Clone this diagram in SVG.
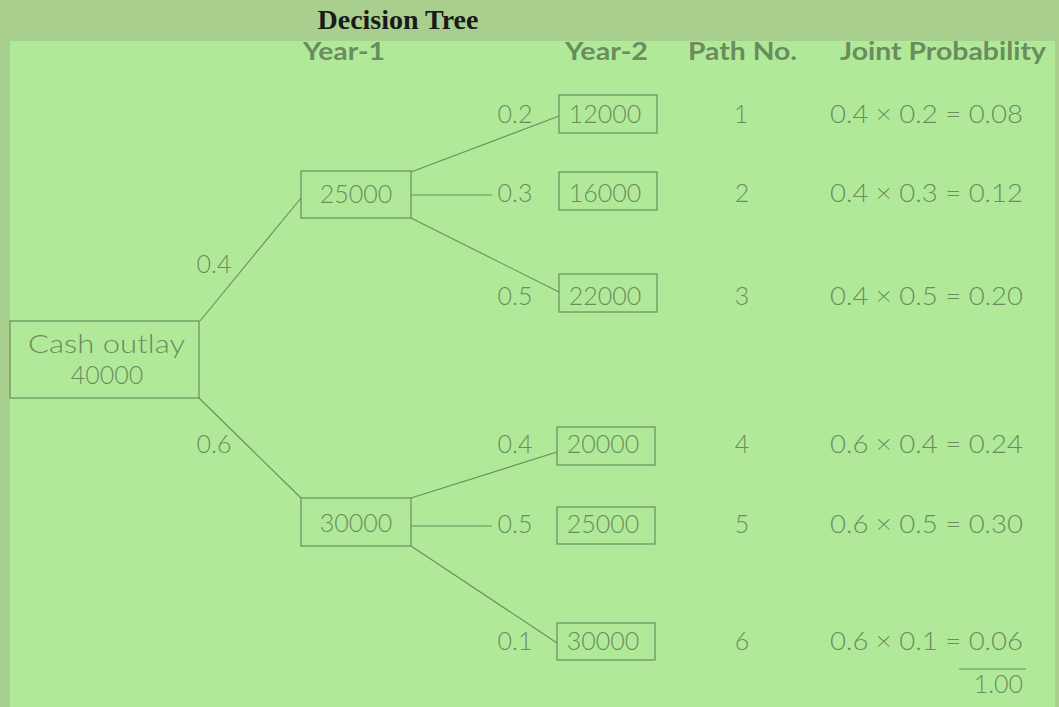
<svg xmlns="http://www.w3.org/2000/svg" width="1059" height="707" viewBox="0 0 1059 707">
<style>
.t{font-family:Lato,"Open Sans","Liberation Sans",sans-serif;font-weight:300;font-size:25px;fill:#6b8c5e}
.h{font-family:Lato,"Open Sans","Liberation Sans",sans-serif;font-weight:700;font-size:25px;fill:#6b8c5e}
.m{text-anchor:middle}
.box{fill:none;stroke:#6b8c5e;stroke-width:1.2}
.ln{stroke:#6b8c5e;stroke-width:1.1;fill:none}
</style>
<rect x="0" y="0" width="1059" height="707" fill="#a8cf8d"/>
<rect x="10" y="41" width="1045" height="666" fill="#b0ea99"/>
<text x="398" y="29" text-anchor="middle" font-family="Liberation Serif,serif" font-weight="bold" font-size="28" fill="#1a1a1a">Decision Tree</text>
<g id="headers">
<text class="h" x="303" y="60" textLength="82" lengthAdjust="spacingAndGlyphs">Year-1</text>
<text class="h" x="565" y="60" textLength="83" lengthAdjust="spacingAndGlyphs">Year-2</text>
<text class="h" x="688" y="60" textLength="109" lengthAdjust="spacingAndGlyphs">Path No.</text>
<text class="h" x="840" y="60" textLength="206" lengthAdjust="spacingAndGlyphs">Joint Probability</text>
</g>
<g id="connectors">
<line class="ln" x1="200" y1="321" x2="301" y2="198"/>
<line class="ln" x1="199" y1="398" x2="301" y2="498"/>
<line class="ln" x1="411" y1="172" x2="559" y2="116"/>
<line class="ln" x1="411" y1="195" x2="492" y2="195"/>
<line class="ln" x1="411" y1="218" x2="559" y2="292"/>
<line class="ln" x1="411" y1="498" x2="557" y2="452"/>
<line class="ln" x1="411" y1="526" x2="492" y2="526"/>
<line class="ln" x1="411" y1="546" x2="557" y2="643"/>
<text class="t m" x="214" y="273">0.4</text>
<text class="t m" x="214" y="453">0.6</text>
<text class="t m" x="515" y="123">0.2</text>
<text class="t m" x="515" y="202">0.3</text>
<text class="t m" x="515" y="305">0.5</text>
<text class="t m" x="515" y="453">0.4</text>
<text class="t m" x="515" y="533">0.5</text>
<text class="t m" x="515" y="650">0.1</text>
</g>
<g id="cash">
<rect class="box" x="10" y="321" width="189" height="77"/>
<text class="t" x="28" y="353" textLength="157" lengthAdjust="spacingAndGlyphs">Cash outlay</text>
<text class="t m" x="107" y="384">40000</text>
</g>
<g id="y1a"><rect class="box" x="301" y="171" width="110" height="47"/><text class="t m" x="356" y="203">25000</text></g>
<g id="y1b"><rect class="box" x="301" y="498" width="110" height="48"/><text class="t m" x="356" y="532">30000</text></g>
<g id="n12000"><rect class="box" x="559" y="95" width="98" height="38"/><text class="t m" x="605" y="123">12000</text></g>
<g id="n16000"><rect class="box" x="559" y="172" width="98" height="38"/><text class="t m" x="605" y="202">16000</text></g>
<g id="n22000"><rect class="box" x="559" y="274" width="98" height="38"/><text class="t m" x="605" y="305">22000</text></g>
<g id="n20000"><rect class="box" x="557" y="427" width="98" height="38"/><text class="t m" x="603" y="453">20000</text></g>
<g id="n25000"><rect class="box" x="557" y="507" width="98" height="37"/><text class="t m" x="603" y="533">25000</text></g>
<g id="n30000"><rect class="box" x="557" y="623" width="98" height="37"/><text class="t m" x="603" y="650">30000</text></g>
<g id="paths">
<text class="t m" x="741" y="123">1</text>
<text class="t m" x="742" y="202">2</text>
<text class="t m" x="742" y="305">3</text>
<text class="t m" x="742" y="453">4</text>
<text class="t m" x="742" y="533">5</text>
<text class="t m" x="742" y="650">6</text>
</g>
<g id="joint">
<text class="t" x="830" y="123" textLength="193" lengthAdjust="spacingAndGlyphs">0.4 × 0.2 = 0.08</text>
<text class="t" x="830" y="202" textLength="193" lengthAdjust="spacingAndGlyphs">0.4 × 0.3 = 0.12</text>
<text class="t" x="830" y="305" textLength="193" lengthAdjust="spacingAndGlyphs">0.4 × 0.5 = 0.20</text>
<text class="t" x="830" y="453" textLength="193" lengthAdjust="spacingAndGlyphs">0.6 × 0.4 = 0.24</text>
<text class="t" x="830" y="533" textLength="193" lengthAdjust="spacingAndGlyphs">0.6 × 0.5 = 0.30</text>
<text class="t" x="830" y="650" textLength="193" lengthAdjust="spacingAndGlyphs">0.6 × 0.1 = 0.06</text>
<line class="ln" x1="959" y1="669" x2="1026" y2="669"/>
<text class="t" x="1023" y="693" text-anchor="end">1.00</text>
</g>
</svg>
